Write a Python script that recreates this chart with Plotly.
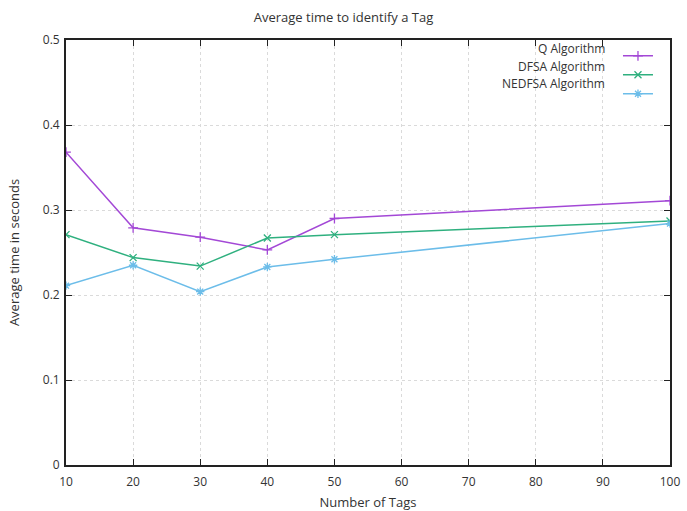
import plotly.graph_objects as go

tags = [10, 20, 30, 40, 50, 100]
q_alg = [0.368, 0.279, 0.268, 0.253, 0.290, 0.311]
dfsa_alg = [0.271, 0.244, 0.234, 0.267, 0.271, 0.287]
nedfsa_alg = [0.211, 0.235, 0.204, 0.233, 0.242, 0.284]
series_names = ["Q Algorithm", "DFSA Algorithm", "NEDFSA Algorithm"]
colors = ["#a348d6", "#2fb07f", "#6cbde9"]
symbols = ["cross-thin-open", "x-thin-open", "asterisk-open"]

fig = go.Figure()
for name, vals, c, s in zip(series_names, [q_alg, dfsa_alg, nedfsa_alg], colors, symbols):
    fig.add_trace(go.Scatter(
        x=tags, y=vals, mode="lines+markers", name=" ",
        line=dict(color=c, width=1.5),
        marker=dict(symbol=s, size=7, color=c, line=dict(color=c, width=1.3)),
    ))

# right-aligned legend labels (gnuplot style: text to the left of sample)
for i, name in enumerate(series_names):
    fig.add_annotation(
        xref="paper", yref="paper", x=0.896, y=1 - (9 + 17 * i) / 425,
        text=name, showarrow=False, xanchor="right", yanchor="middle",
        font=dict(size=12, color="#333"),
    )

axis_common = dict(
    showline=True, linecolor="#222", linewidth=1.8, mirror="ticks",
    ticks="inside", ticklen=6, tickcolor="#222", tickwidth=1,
    showgrid=True, gridcolor="#dadada", griddash="dot", gridwidth=1,
    zeroline=False, tickfont=dict(size=12, color="#333"), automargin=False,
)

fig.update_layout(
    width=687, height=511,
    margin=dict(l=66, r=17, t=40, b=46),
    paper_bgcolor="white", plot_bgcolor="white",
    font=dict(family="Open Sans", size=12, color="#333"),
    title=dict(text="Average time to identify a Tag", x=0.5, xanchor="center",
               y=0.965, yanchor="middle", font=dict(size=13)),
    xaxis=dict(range=[10, 100], dtick=10, tick0=10, ticklabelstandoff=5,
               title=dict(text="Number of Tags", standoff=10, font=dict(size=13)),
               **axis_common),
    yaxis=dict(range=[0, 0.5], dtick=0.1, ticklabelstandoff=2,
               title=dict(text="Average time in seconds", standoff=20, font=dict(size=13)),
               **axis_common),
    legend=dict(x=0.995, y=0.997, xanchor="right", yanchor="top",
                bgcolor="rgba(0,0,0,0)", tracegroupgap=0,
                font=dict(size=12), itemwidth=30),
    showlegend=True,
)

fig.write_html("out.html")
